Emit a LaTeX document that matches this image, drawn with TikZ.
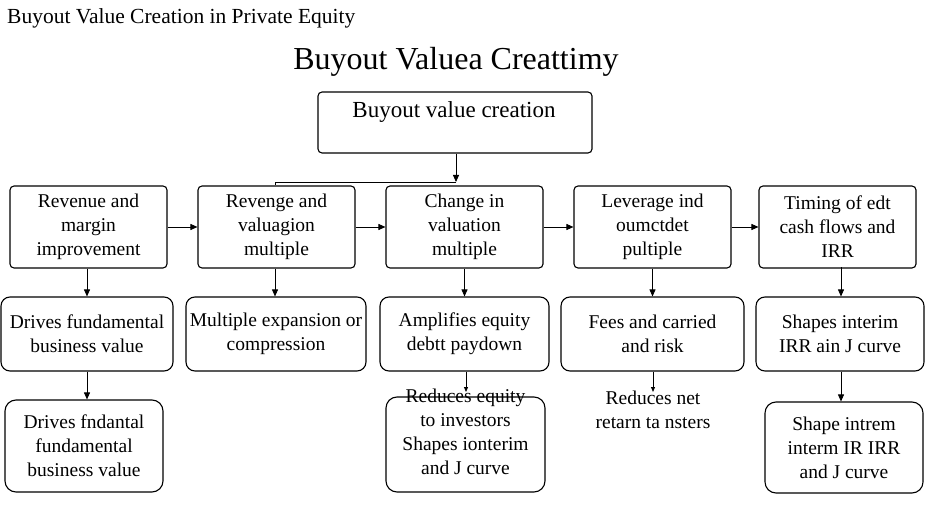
\documentclass[tikz,border=0pt]{standalone}
\usepackage{fontspec}
\setmainfont{Liberation Serif}
\usetikzlibrary{arrows.meta}
\begin{document}
\begin{tikzpicture}[x=1pt,y=-1pt,
  box/.style={draw=black,line width=1.1pt,rounded corners=4pt,inner sep=0pt,align=center,font=\fontsize{19.5}{24}\selectfont},
  rbox/.style={draw=black,line width=1.1pt,rounded corners=11pt,inner sep=0pt,align=center,font=\fontsize{19.5}{24}\selectfont},
  txt/.style={inner sep=0pt,align=center,font=\fontsize{19.5}{24}\selectfont},
  arr/.style={-{Triangle[length=7pt,width=6pt]},line width=0.8pt},
  arrs/.style={-{Triangle[length=5pt,width=4pt]},line width=0.8pt},
  ln/.style={line width=0.8pt}]
\useasboundingbox[fill=white] (0,0) rectangle (928,510);
\node[anchor=west,inner sep=0pt,font=\fontsize{21.5}{24}\selectfont] (title) at (7,18) {Buyout Value Creation in Private Equity};
\node[inner sep=0pt,font=\fontsize{32}{36}\selectfont] (main) at (456,62) {Buyout Valuea Creattimy};
% top box
\node[box,minimum width=274pt,minimum height=61pt] (top) at (455,122.5) {};
\node[inner sep=0pt,font=\fontsize{23}{26}\selectfont] (toptxt) at (454,112) {Buyout value creation};
% row 1
\node[box,minimum width=157pt,minimum height=82pt] (a1) at (88.5,227) {Revenue and\\margin\\improvement};
\node[box,minimum width=157pt,minimum height=82pt] (b1) at (276.5,227) {Revenge and\\valuagion\\multiple};
\node[box,minimum width=157pt,minimum height=82pt] (c1) at (464.5,227) {Change in\\valuation\\multiple};
\node[box,minimum width=157pt,minimum height=82pt] (d1) at (652.5,227) {Leverage ind\\oumctdet\\pultiple};
\node[box,minimum width=157pt,minimum height=82pt] (e1) at (837.5,227) {Timing of edt\\cash flows and\\IRR};
% row 2
\node[rbox,rounded corners=9pt,minimum width=172pt,minimum height=74pt] (a2) at (87,334) {Drives fundamental\\business value};
\node[rbox,rounded corners=9pt,minimum width=180pt,minimum height=74pt] (b2) at (276,334) {Multiple expansion or\\compression};
\node[rbox,rounded corners=9pt,minimum width=169pt,minimum height=74pt] (c2) at (464.5,334) {Amplifies equity\\debtt paydown};
\node[rbox,rounded corners=9pt,minimum width=183pt,minimum height=74pt] (d2) at (652.5,334) {Fees and carried\\and risk};
\node[rbox,rounded corners=9pt,minimum width=168pt,minimum height=74pt] (e2) at (840,334) {Shapes interim\\IRR ain J curve};
% row 3
\node[rbox,minimum width=158pt,minimum height=92pt] (a3) at (84,446) {Drives fndantal\\fundamental\\business value};
\node[rbox,minimum width=159pt,minimum height=95pt] (c3) at (465.5,444.5) {};
\node[txt] (c3t) at (465.5,432) {Reduces equity\\to investors\\Shapes ionterim\\and J curve};
\node[txt] (d3) at (653,409.5) {Reduces net\\retarn ta nsters};
\node[rbox,minimum width=158pt,minimum height=91pt] (e3) at (844,447.5) {Shape intrem\\interm IR IRR\\and J curve};
% connectors
\coordinate (j) at (456,182);
\coordinate (k) at (275,182);
\draw[arr] (top.south -| j) -- (j);
\draw[ln] (j) -- (k) -- (k |- b1.north);
\draw[arr] (a1.east) -- (b1.west);
\draw[arr] (b1.east) -- (c1.west);
\draw[arr] (c1.east) -- (d1.west);
\draw[arr] (d1.east) -- (e1.west);
\draw[arr] (a1.south -| a2.north) -- (a2.north);
\draw[arr] (b1.south -| k) -- (b2.north -| k);
\draw[arr] (c1.south) -- (c2.north -| c1.south);
\draw[arr] (d1.south) -- (d2.north -| d1.south);
\draw[arr] (e2.north -| 841,0) ++(0,-29) -- (e2.north -| 841,0);
\draw[arr] (a2.south -| 87,0) -- (a3.north -| 87,0);
\draw[arrs] (c2.south -| 466,0) -- (466,392);
\draw[arrs] (d2.south -| 653,0) -- (653,392);
\draw[arr] (e2.south -| 841,0) -- (e3.north -| 841,0);
\end{tikzpicture}
\end{document}
